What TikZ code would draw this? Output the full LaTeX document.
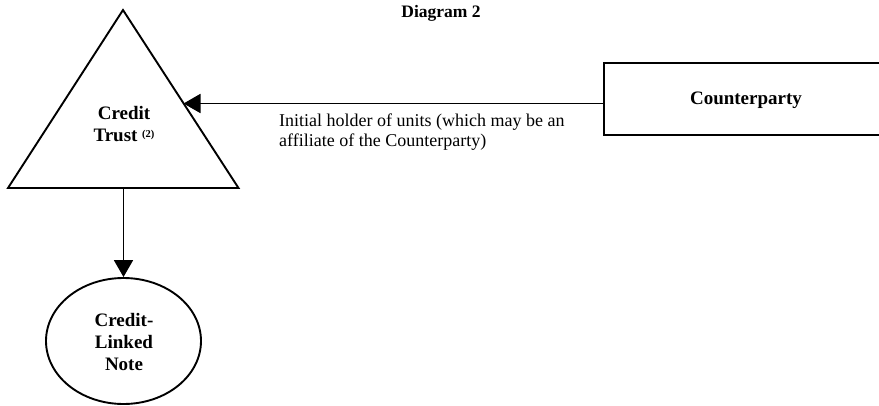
\documentclass[tikz,border=0pt]{standalone}
\usepackage{fontspec}
\setmainfont{Liberation Serif}
\usetikzlibrary{arrows.meta,shapes.geometric}
\tikzset{
  shp/.style={draw=black, line width=1.9pt},
  boldtxt/.style={font=\fontsize{19pt}{22pt}\selectfont\bfseries, align=center, inner sep=0pt},
  plaintxt/.style={font=\fontsize{18pt}{20pt}\selectfont, align=left, inner sep=0pt},
  arr/.style={draw=black, line width=1.9pt, -{Triangle[length=17pt,width=19pt]}}
}
\begin{document}
\begin{tikzpicture}[x=1pt,y=-1pt]
\useasboundingbox (0,0) rectangle (879,405);
% title
\node[boldtxt, font=\fontsize{17.5pt}{20pt}\selectfont\bfseries] (title) at (441,13) {Diagram 2};
% credit trust triangle
\draw[shp, line join=miter] (123,10) -- (238.5,188) -- (8,188) -- cycle;
\node[boldtxt] (trust) at (124,124) {Credit\\Trust \raisebox{4pt}{\fontsize{10.5pt}{10.5pt}\selectfont\bfseries(2)}};
\coordinate (trustE) at (183.5,103.5);
\coordinate (trustS) at (123.5,188);
% counterparty
\node[shp, rectangle, minimum width=284pt, minimum height=72pt, inner sep=0pt] (cp) at (746,99) {};
\node[boldtxt] (cptext) at (746,100) {Counterparty};
% credit-linked note
\node[shp, ellipse, minimum width=155pt, minimum height=126pt, inner sep=0pt] (cln) at (123.5,341) {};
\node[boldtxt] (clntext) at (124,341.5) {Credit-\\Linked\\Note};
% connectors
\draw[arr] ([yshift=-4.5pt]cp.west) -- (trustE);
\draw[arr] (trustS) -- (cln.north);
% label
\node[plaintxt, anchor=west] (lbl) at (279,132) {Initial holder of units (which may be an\\affiliate of the Counterparty)};
\end{tikzpicture}
\end{document}
